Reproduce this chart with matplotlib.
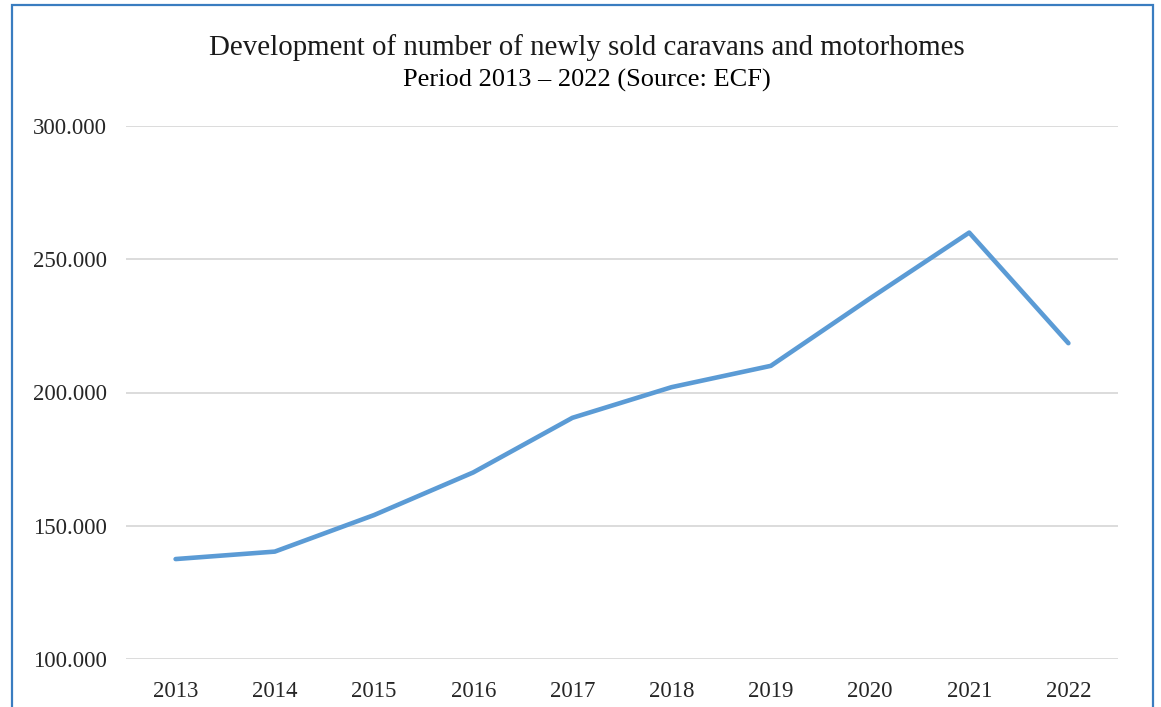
import matplotlib.pyplot as plt
from matplotlib.patches import Rectangle
from matplotlib.ticker import FuncFormatter

# Newly sold caravans and motorhomes (ECF)
years = ['2013', '2014', '2015', '2016', '2017', '2018', '2019', '2020', '2021', '2022']
units_sold = [137500, 140300, 154000, 170000, 190500, 202000, 210000, 235300, 260000, 218500]

title_line1 = 'Development of number of newly sold caravans and motorhomes'
title_line2 = 'Period 2013 \u2013 2022 (Source: ECF)'

W, H = 1161, 707
fig = plt.figure(figsize=(W / 100, H / 100), dpi=100)
ax = fig.add_axes([126 / W, 1 - 659 / H, (1118 - 126) / W, (659 - 126) / H])

x = list(range(len(years)))
ax.plot(x, units_sold, color='#5B9BD5', linewidth=3.3, solid_capstyle='round',
        solid_joinstyle='round', zorder=3)

ax.set_xlim(-0.5, len(years) - 0.5)
ax.set_ylim(100000, 300000)
ax.set_yticks([100000, 150000, 200000, 250000, 300000])
ax.yaxis.set_major_formatter(FuncFormatter(lambda v, p: f'{int(v):,}'.replace(',', '.')))
ax.set_xticks(x)
ax.set_xticklabels(years)

for lbl in ax.get_xticklabels() + ax.get_yticklabels():
    lbl.set_fontfamily('Liberation Serif')
    lbl.set_fontsize(16.5)
    lbl.set_color('#262626')
ax.tick_params(axis='both', length=0)
ax.tick_params(axis='y', pad=14)
ax.tick_params(axis='x', pad=16)

ax.grid(axis='y', color='#D9D9D9', linewidth=1.3)
ax.set_axisbelow(True)
for s in ax.spines.values():
    s.set_visible(False)

# two-line title
fig.text(587 / W, 1 - 48 / H, title_line1, ha='center', va='center',
         family='Liberation Serif', fontsize=20.8, color='#1a1a1a')
fig.text(587 / W, 1 - 80 / H, title_line2, ha='center', va='center',
         family='Liberation Serif', fontsize=19, color='#000000')

# blue frame around the chart area (bottom edge runs off the image)
fig.patches.append(Rectangle((11.5 / W, -0.05), (1153 - 11.5) / W, 1.05 - 5 / H,
                             transform=fig.transFigure, fill=False,
                             edgecolor='#3A7DC0', linewidth=1.6))

fig.savefig('out.png', dpi=100)
